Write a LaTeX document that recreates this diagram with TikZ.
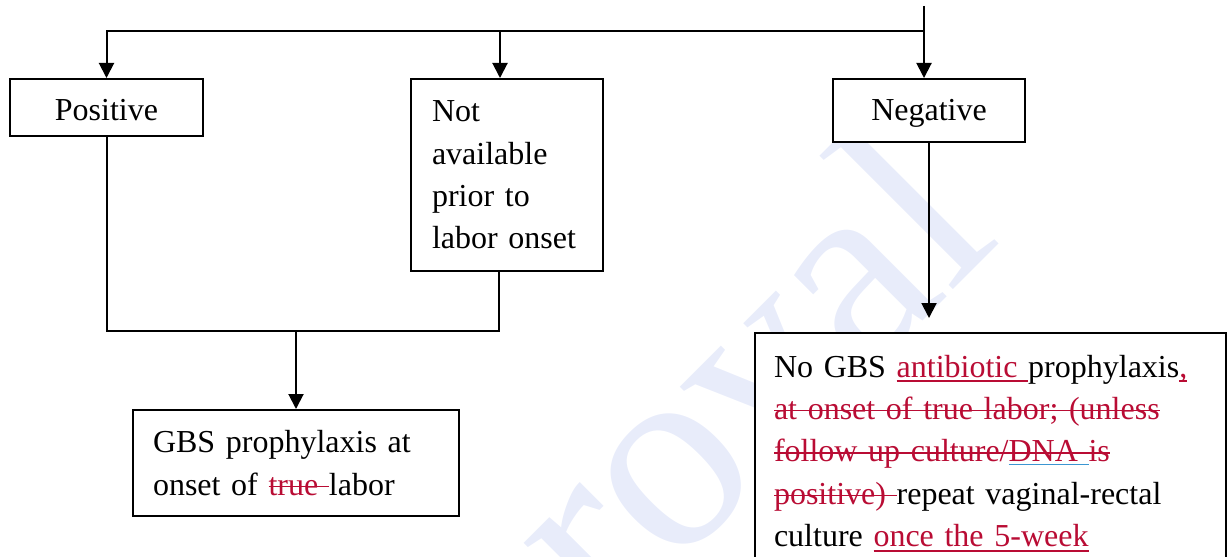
\documentclass[tikz,border=0pt]{standalone}
\usepackage{fontspec}
\setmainfont{Liberation Serif}
\usetikzlibrary{arrows.meta,calc}

\definecolor{insred}{RGB}{185,12,52}
\definecolor{ulblue}{RGB}{60,150,210}
\definecolor{wmblue}{RGB}{232,236,250}

% revision marks: underline, strike-out and a blue underline that takes no space
\newsavebox\markbox
\newcommand\insmark[1]{\sbox\markbox{#1}\rlap{\rule[-2.5pt]{\wd\markbox}{0.8pt}}\usebox\markbox}
\newcommand\delmark[1]{\sbox\markbox{#1}\rlap{\rule[4pt]{\wd\markbox}{0.8pt}}\usebox\markbox}
\newcommand\bluemark[1]{\sbox\markbox{#1}\rlap{\textcolor{ulblue}{\rule[-1.8pt]{\wd\markbox}{0.8pt}}}}

\tikzset{
  flowbox/.style={draw, line width=1pt, fill=white, inner ysep=0pt},
  link/.style={line width=1pt},
  arr/.style={line width=1pt, -{Triangle[length=7.5pt,width=7.5pt]}},
}

\begin{document}
\begin{tikzpicture}[x=0.5pt, y=-0.5pt,
  every node/.style={font=\fontsize{16pt}{21.2pt}\selectfont}]
\useasboundingbox (0,0) rectangle (1229,556);
\begin{scope}
\clip (0,0) rectangle (1229,556);

% watermark
\node[font=\fontsize{136pt}{136pt}\selectfont, text=wmblue, rotate=45, inner sep=0pt]
  (wm) at (740,372) {roval};

% boxes
\node[flowbox, minimum width=96.5pt, minimum height=28.5pt, text height=12.5pt, text depth=0pt]
  (pos) at (106.5,107.5) {Positive};
\node[flowbox, align=left, text width=75pt, inner xsep=10.5pt, minimum height=96pt]
  (notav) at (507,175) {Not\\available\\prior to\\labor onset};
\node[flowbox, minimum width=96pt, minimum height=31.5pt, text height=11.5pt, text depth=2pt]
  (neg) at (929,110.5) {Negative};
\node[flowbox, align=left, text width=143pt, inner xsep=10pt, minimum height=53pt]
  (gbs) at (296,463) {GBS prophylaxis at\\onset of \textcolor{insred}{\delmark{true }}labor};
\node[flowbox, align=left, anchor=north west, text width=216.5pt, inner xsep=9.5pt,
  inner ysep=10.9pt, text depth=120pt] (noabx) at (754,332)
  {No GBS \textcolor{insred}{\insmark{antibiotic }}prophylaxis\textcolor{insred}{\insmark{,}}\\
   \textcolor{insred}{\delmark{at onset of true labor; (unless}}\\
   \textcolor{insred}{\delmark{follow up culture/}\bluemark{DNA }\delmark{DNA is}}\\
   \textcolor{insred}{\delmark{positive) }}repeat vaginal-rectal\\
   culture \textcolor{insred}{\insmark{once the 5-week}}};

% connectors
\coordinate (src) at (924,6);
\coordinate (bus) at (924,31);
\coordinate (nin) at ($(notav.north)+(-7,0)$);
\coordinate (nout) at ($(notav.south)+(-8,0)$);
\coordinate (merge) at ($(gbs.north)+(0,-78)$);
\coordinate (ntip) at ($(noabx.north -| neg.south)+(0,-14)$);

\draw[link] (src) -- (bus);
\draw[arr] (bus) -- (bus |- neg.north);
\draw[arr] (bus) -| (pos.north);
\draw[arr] (bus -| nin) -- (nin);
\draw[link] (pos.south) |- (merge) -| (nout);
\draw[arr] (merge) -- (gbs.north);
\draw[arr] (neg.south) -- (ntip);
\end{scope}
\end{tikzpicture}
\end{document}
